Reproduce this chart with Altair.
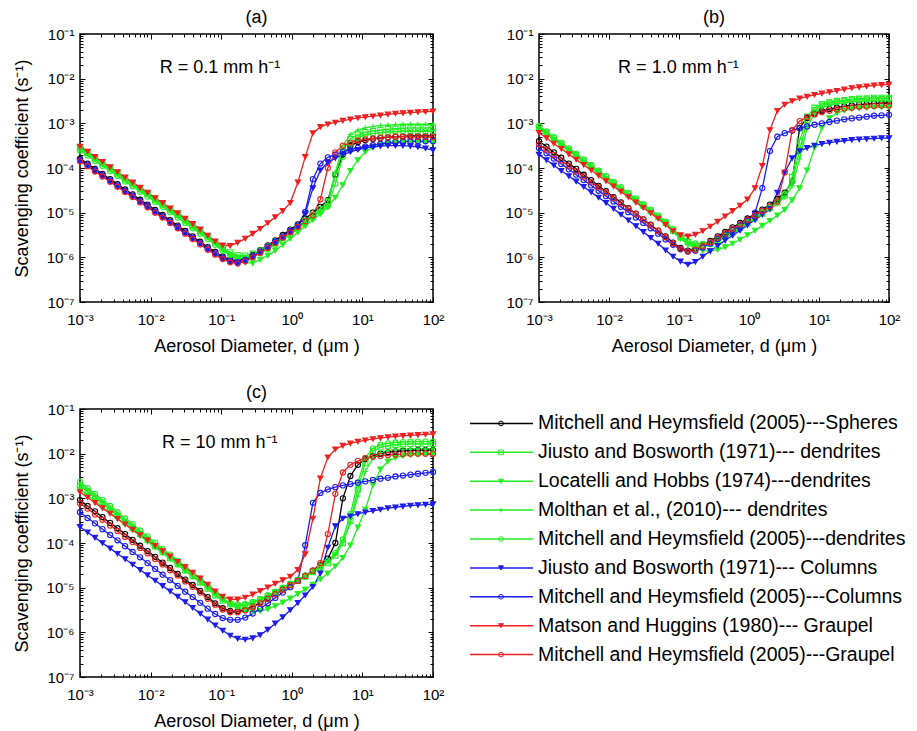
import altair as alt
import pandas as pd

# ---------------- data (diameters in µm, coefficients stored as log10 values) ----------------
DIAMETER_UM = [0.001, 0.00128, 0.00163, 0.00208, 0.00267, 0.0034, 0.00435, 0.00556, 0.0071, 0.00906,
               0.0116, 0.0148, 0.0189, 0.0242, 0.0309, 0.0394, 0.0504, 0.0644, 0.0822, 0.105,
               0.134, 0.171, 0.219, 0.28, 0.357, 0.457, 0.583, 0.745, 0.952, 1.22,
               1.55, 1.99, 2.54, 3.24, 4.14, 5.29, 6.76, 8.63, 11.0, 14.1,
               18.0, 23.0, 29.4, 37.5, 47.9, 61.2, 78.3, 100.0]

SERIES = [
    "Mitchell and Heymsfield (2005)---Spheres",
    "Jiusto and Bosworth (1971)--- dendrites",
    "Locatelli and Hobbs (1974)---dendrites",
    "Molthan et al., (2010)--- dendrites",
    "Mitchell and Heymsfield (2005)---dendrites",
    "Jiusto and Bosworth (1971)--- Columns",
    "Mitchell and Heymsfield (2005)---Columns",
    "Matson and Huggins (1980)--- Graupel",
    "Mitchell and Heymsfield (2005)---Graupel",
]
COLORS = ["#000000", "#22ee22", "#22ee22", "#22ee22", "#22ee22",
          "#1c1cf0", "#1c1cf0", "#ee2020", "#ee2020"]
FILLS = ["transparent", "transparent", "#22ee22", "transparent", "transparent",
         "#1c1cf0", "transparent", "#ee2020", "transparent"]
SHAPES = ["circle", "square", "triangle-down", "M-1,0H1M0,-1V1", "circle",
          "triangle-down", "circle", "triangle-down", "circle"]

# Panel (a): R = 0.1 mm/h
A_SPHERES = [-3.79,-3.90,-4.02,-4.13,-4.25,-4.36,-4.48,-4.59,-4.71,-4.82,
             -4.94,-5.05,-5.17,-5.29,-5.41,-5.53,-5.65,-5.77,-5.88,-5.98,
             -6.05,-6.08,-6.03,-5.94,-5.84,-5.73,-5.62,-5.50,-5.38,-5.26,
             -5.13,-5.00,-4.87,-4.72,-4.15,-3.70,-3.50,-3.42,-3.38,-3.35,
             -3.33,-3.31,-3.30,-3.29,-3.28,-3.28,-3.28,-3.28]
A_JIUSTO_DEND = [-3.55,-3.66,-3.78,-3.89,-4.01,-4.12,-4.24,-4.35,-4.47,-4.58,
                 -4.70,-4.81,-4.93,-5.05,-5.17,-5.29,-5.41,-5.53,-5.66,-5.79,
                 -5.89,-5.95,-5.96,-5.92,-5.85,-5.76,-5.66,-5.55,-5.43,-5.31,
                 -5.18,-5.05,-4.92,-4.75,-4.15,-3.60,-3.35,-3.25,-3.20,-3.17,
                 -3.15,-3.13,-3.12,-3.11,-3.10,-3.10,-3.10,-3.10]
A_LOCATELLI = [-3.53,-3.64,-3.76,-3.87,-3.99,-4.10,-4.22,-4.33,-4.45,-4.56,
               -4.68,-4.79,-4.91,-5.03,-5.15,-5.27,-5.40,-5.53,-5.67,-5.82,
               -5.96,-6.06,-6.12,-6.13,-6.05,-5.96,-5.85,-5.72,-5.58,-5.44,
               -5.30,-5.16,-5.03,-4.88,-4.66,-4.38,-4.06,-3.82,-3.64,-3.54,
               -3.48,-3.45,-3.43,-3.42,-3.41,-3.41,-3.41,-3.42]
A_MOLTHAN = [-3.58,-3.69,-3.81,-3.92,-4.04,-4.15,-4.27,-4.38,-4.50,-4.61,
             -4.73,-4.84,-4.96,-5.08,-5.20,-5.32,-5.44,-5.56,-5.69,-5.82,
             -5.92,-5.98,-5.99,-5.95,-5.88,-5.79,-5.69,-5.58,-5.46,-5.34,
             -5.21,-5.08,-4.95,-4.80,-4.10,-3.50,-3.25,-3.15,-3.10,-3.07,
             -3.05,-3.04,-3.03,-3.02,-3.02,-3.02,-3.02,-3.02]
A_MITCHELL_DEND = [-3.61,-3.72,-3.84,-3.95,-4.07,-4.18,-4.30,-4.41,-4.53,-4.64,
                   -4.76,-4.87,-4.99,-5.11,-5.23,-5.35,-5.47,-5.59,-5.72,-5.85,
                   -5.95,-6.01,-6.02,-5.98,-5.91,-5.82,-5.72,-5.61,-5.49,-5.37,
                   -5.24,-5.11,-4.98,-4.85,-4.35,-3.75,-3.45,-3.32,-3.26,-3.23,
                   -3.21,-3.20,-3.19,-3.18,-3.18,-3.18,-3.18,-3.18]
A_JIUSTO_COL = [-3.84,-3.95,-4.07,-4.18,-4.30,-4.41,-4.53,-4.64,-4.76,-4.87,
                -4.99,-5.10,-5.22,-5.34,-5.46,-5.58,-5.70,-5.82,-5.93,-6.03,
                -6.10,-6.13,-6.08,-5.99,-5.89,-5.78,-5.67,-5.55,-5.43,-5.31,
                -5.02,-4.45,-4.05,-3.88,-3.78,-3.70,-3.64,-3.59,-3.55,-3.53,
                -3.51,-3.50,-3.50,-3.50,-3.51,-3.53,-3.56,-3.60]
A_MITCHELL_COL = [-3.82,-3.93,-4.05,-4.16,-4.28,-4.39,-4.51,-4.62,-4.74,-4.85,
                  -4.97,-5.08,-5.20,-5.32,-5.44,-5.56,-5.68,-5.80,-5.91,-6.01,
                  -6.08,-6.11,-6.06,-5.97,-5.87,-5.76,-5.65,-5.53,-5.41,-5.29,
                  -4.98,-4.25,-3.90,-3.76,-3.70,-3.64,-3.59,-3.55,-3.52,-3.49,
                  -3.46,-3.44,-3.42,-3.41,-3.40,-3.40,-3.40,-3.40]
A_MATSON = [-3.52,-3.63,-3.75,-3.86,-3.98,-4.09,-4.21,-4.32,-4.44,-4.55,
            -4.67,-4.78,-4.90,-5.01,-5.13,-5.25,-5.37,-5.51,-5.64,-5.73,
            -5.74,-5.67,-5.58,-5.47,-5.36,-5.23,-5.10,-4.96,-4.78,-4.32,
            -3.75,-3.22,-3.08,-3.02,-2.98,-2.94,-2.91,-2.88,-2.86,-2.84,
            -2.82,-2.80,-2.78,-2.77,-2.76,-2.75,-2.74,-2.73]
A_MITCHELL_GRP = [-3.85,-3.96,-4.08,-4.19,-4.31,-4.42,-4.54,-4.65,-4.77,-4.88,
                  -5.00,-5.11,-5.23,-5.35,-5.47,-5.59,-5.71,-5.83,-5.94,-6.04,
                  -6.11,-6.14,-6.09,-6.00,-5.90,-5.79,-5.68,-5.56,-5.44,-5.32,
                  -5.19,-5.06,-4.70,-4.00,-3.65,-3.50,-3.43,-3.39,-3.36,-3.34,
                  -3.32,-3.31,-3.30,-3.30,-3.30,-3.30,-3.30,-3.31]

# Panel (b): R = 1.0 mm/h
B_SPHERES = [-3.40,-3.52,-3.65,-3.77,-3.90,-4.02,-4.15,-4.27,-4.40,-4.52,
             -4.65,-4.77,-4.90,-5.02,-5.15,-5.27,-5.40,-5.53,-5.67,-5.79,
             -5.85,-5.80,-5.72,-5.63,-5.53,-5.43,-5.33,-5.23,-5.13,-5.03,
             -4.93,-4.82,-4.70,-4.55,-4.30,-3.10,-2.88,-2.78,-2.72,-2.68,
             -2.65,-2.62,-2.60,-2.58,-2.57,-2.56,-2.55,-2.55]
B_JIUSTO_DEND = [-3.09,-3.21,-3.34,-3.46,-3.59,-3.71,-3.84,-3.96,-4.09,-4.21,
                 -4.34,-4.46,-4.59,-4.71,-4.84,-4.96,-5.09,-5.23,-5.40,-5.55,
                 -5.66,-5.72,-5.73,-5.69,-5.62,-5.53,-5.44,-5.34,-5.24,-5.13,
                 -5.02,-4.90,-4.77,-4.62,-4.20,-3.40,-2.85,-2.65,-2.57,-2.53,
                 -2.50,-2.48,-2.46,-2.45,-2.44,-2.43,-2.43,-2.43]
B_LOCATELLI = [-3.12,-3.24,-3.37,-3.49,-3.62,-3.74,-3.87,-3.99,-4.12,-4.24,
               -4.37,-4.49,-4.62,-4.74,-4.87,-4.99,-5.12,-5.26,-5.42,-5.58,
               -5.71,-5.80,-5.85,-5.86,-5.83,-5.77,-5.69,-5.60,-5.50,-5.40,
               -5.29,-5.18,-5.06,-4.93,-4.72,-4.45,-4.05,-3.55,-3.10,-2.88,
               -2.77,-2.71,-2.68,-2.66,-2.65,-2.64,-2.64,-2.64]
B_MOLTHAN = [-3.12,-3.24,-3.37,-3.49,-3.62,-3.74,-3.87,-3.99,-4.12,-4.24,
             -4.37,-4.49,-4.62,-4.74,-4.87,-4.99,-5.12,-5.26,-5.43,-5.58,
             -5.69,-5.75,-5.76,-5.72,-5.65,-5.56,-5.47,-5.37,-5.27,-5.16,
             -5.05,-4.93,-4.80,-4.65,-4.40,-3.80,-3.10,-2.78,-2.65,-2.59,
             -2.56,-2.54,-2.52,-2.51,-2.50,-2.50,-2.50,-2.50]
B_MITCHELL_DEND = [-3.06,-3.18,-3.31,-3.43,-3.56,-3.68,-3.81,-3.93,-4.06,-4.18,
                   -4.31,-4.43,-4.56,-4.68,-4.81,-4.93,-5.06,-5.20,-5.37,-5.52,
                   -5.63,-5.69,-5.70,-5.66,-5.59,-5.50,-5.41,-5.31,-5.21,-5.10,
                   -4.99,-4.87,-4.74,-4.58,-4.30,-3.60,-2.95,-2.70,-2.60,-2.55,
                   -2.52,-2.50,-2.48,-2.47,-2.46,-2.45,-2.45,-2.45]
B_JIUSTO_COL = [-3.70,-3.82,-3.94,-4.06,-4.18,-4.30,-4.42,-4.54,-4.66,-4.78,
                -4.91,-5.04,-5.17,-5.30,-5.43,-5.56,-5.69,-5.84,-5.98,-6.09,
                -6.16,-6.10,-5.98,-5.86,-5.74,-5.62,-5.51,-5.40,-5.28,-5.16,
                -5.04,-4.92,-4.55,-4.10,-3.78,-3.62,-3.55,-3.50,-3.46,-3.43,
                -3.41,-3.39,-3.37,-3.36,-3.35,-3.34,-3.33,-3.33]
B_MITCHELL_COL = [-3.55,-3.67,-3.79,-3.91,-4.03,-4.15,-4.27,-4.39,-4.51,-4.63,
                  -4.75,-4.87,-4.99,-5.11,-5.23,-5.35,-5.47,-5.60,-5.72,-5.82,
                  -5.87,-5.85,-5.78,-5.69,-5.59,-5.49,-5.39,-5.29,-5.18,-5.00,
                  -4.45,-3.62,-3.30,-3.22,-3.16,-3.11,-3.07,-3.03,-3.00,-2.97,
                  -2.94,-2.91,-2.89,-2.87,-2.85,-2.83,-2.82,-2.81]
B_MATSON = [-3.21,-3.33,-3.45,-3.57,-3.69,-3.81,-3.93,-4.05,-4.17,-4.29,
            -4.41,-4.53,-4.65,-4.77,-4.89,-5.01,-5.13,-5.27,-5.41,-5.50,
            -5.53,-5.49,-5.41,-5.31,-5.20,-5.08,-4.96,-4.84,-4.70,-4.45,
            -3.95,-3.15,-2.72,-2.58,-2.50,-2.44,-2.40,-2.36,-2.33,-2.30,
            -2.27,-2.24,-2.21,-2.19,-2.17,-2.15,-2.14,-2.13]
B_MITCHELL_GRP = [-3.47,-3.59,-3.71,-3.83,-3.95,-4.07,-4.19,-4.31,-4.43,-4.55,
                  -4.67,-4.79,-4.91,-5.03,-5.15,-5.28,-5.41,-5.55,-5.69,-5.81,
                  -5.87,-5.83,-5.75,-5.66,-5.56,-5.46,-5.36,-5.26,-5.16,-5.06,
                  -4.96,-4.86,-4.75,-4.10,-3.15,-2.95,-2.86,-2.80,-2.75,-2.72,
                  -2.69,-2.67,-2.65,-2.63,-2.62,-2.61,-2.60,-2.60]

# Panel (c): R = 10 mm/h
C_SPHERES = [-3.04,-3.17,-3.29,-3.42,-3.55,-3.67,-3.80,-3.93,-4.06,-4.18,
             -4.31,-4.44,-4.56,-4.69,-4.82,-4.94,-5.07,-5.21,-5.35,-5.46,
             -5.52,-5.53,-5.49,-5.42,-5.33,-5.23,-5.13,-5.03,-4.93,-4.83,
             -4.73,-4.62,-4.50,-4.35,-4.00,-3.00,-2.50,-2.25,-2.12,-2.05,
             -2.00,-1.97,-1.95,-1.94,-1.93,-1.92,-1.92,-1.92]
C_JIUSTO_DEND = [-2.72,-2.85,-2.99,-3.12,-3.26,-3.39,-3.53,-3.66,-3.80,-3.93,
                 -4.07,-4.20,-4.34,-4.47,-4.61,-4.74,-4.88,-5.02,-5.17,-5.29,
                 -5.37,-5.40,-5.39,-5.34,-5.27,-5.19,-5.11,-5.02,-4.93,-4.84,
                 -4.75,-4.65,-4.55,-4.45,-4.28,-4.00,-3.50,-2.80,-2.20,-1.95,
                 -1.86,-1.82,-1.80,-1.79,-1.78,-1.78,-1.78,-1.78]
C_LOCATELLI = [-2.80,-2.93,-3.06,-3.19,-3.32,-3.45,-3.58,-3.71,-3.84,-3.97,
               -4.10,-4.23,-4.36,-4.49,-4.62,-4.75,-4.88,-5.01,-5.14,-5.27,
               -5.38,-5.46,-5.51,-5.53,-5.52,-5.48,-5.41,-5.33,-5.24,-5.14,
               -5.04,-4.93,-4.81,-4.68,-4.52,-4.33,-4.05,-3.65,-3.25,-2.70,
               -2.35,-2.17,-2.09,-2.05,-2.03,-2.02,-2.01,-2.00]
C_MOLTHAN = [-2.68,-2.81,-2.95,-3.08,-3.22,-3.35,-3.49,-3.62,-3.76,-3.89,
             -4.03,-4.16,-4.30,-4.43,-4.57,-4.70,-4.84,-4.98,-5.14,-5.27,
             -5.36,-5.39,-5.38,-5.33,-5.26,-5.18,-5.10,-5.01,-4.92,-4.83,
             -4.74,-4.64,-4.53,-4.42,-4.25,-3.98,-3.55,-2.95,-2.40,-2.10,
             -1.98,-1.93,-1.91,-1.90,-1.89,-1.89,-1.89,-1.89]
C_MITCHELL_DEND = [-2.63,-2.77,-2.90,-3.04,-3.17,-3.31,-3.45,-3.58,-3.72,-3.85,
                   -3.99,-4.13,-4.26,-4.40,-4.53,-4.67,-4.80,-4.95,-5.11,-5.25,
                   -5.34,-5.38,-5.37,-5.32,-5.25,-5.17,-5.09,-5.00,-4.91,-4.82,
                   -4.73,-4.63,-4.52,-4.40,-4.22,-3.92,-3.35,-2.65,-2.10,-1.88,
                   -1.80,-1.77,-1.75,-1.74,-1.73,-1.73,-1.73,-1.73]
C_JIUSTO_COL = [-3.64,-3.76,-3.88,-4.00,-4.12,-4.24,-4.36,-4.48,-4.60,-4.72,
                -4.84,-4.96,-5.08,-5.20,-5.32,-5.45,-5.58,-5.71,-5.84,-5.96,
                -6.07,-6.14,-6.16,-6.13,-6.06,-5.94,-5.80,-5.66,-5.50,-5.34,
                -5.17,-4.98,-4.68,-4.10,-3.62,-3.45,-3.40,-3.35,-3.31,-3.28,
                -3.25,-3.22,-3.20,-3.18,-3.16,-3.15,-3.14,-3.13]
C_MITCHELL_COL = [-3.31,-3.44,-3.56,-3.69,-3.82,-3.94,-4.07,-4.20,-4.32,-4.45,
                  -4.58,-4.71,-4.83,-4.96,-5.09,-5.21,-5.34,-5.47,-5.59,-5.68,
                  -5.72,-5.72,-5.67,-5.58,-5.47,-5.35,-5.23,-5.11,-4.99,-4.85,
                  -4.05,-3.10,-2.88,-2.80,-2.75,-2.71,-2.68,-2.65,-2.62,-2.59,
                  -2.56,-2.54,-2.51,-2.49,-2.47,-2.45,-2.43,-2.41]
C_MATSON = [-2.86,-2.98,-3.10,-3.22,-3.34,-3.46,-3.58,-3.70,-3.82,-3.94,
            -4.06,-4.18,-4.30,-4.42,-4.54,-4.66,-4.79,-4.93,-5.08,-5.20,
            -5.26,-5.26,-5.22,-5.15,-5.07,-4.99,-4.91,-4.83,-4.75,-4.60,
            -4.25,-3.45,-2.55,-2.08,-1.90,-1.82,-1.77,-1.73,-1.70,-1.67,
            -1.65,-1.63,-1.61,-1.60,-1.59,-1.58,-1.57,-1.56]
C_MITCHELL_GRP = [-3.11,-3.23,-3.36,-3.48,-3.61,-3.73,-3.86,-3.98,-4.11,-4.23,
                  -4.36,-4.48,-4.61,-4.73,-4.86,-4.98,-5.11,-5.25,-5.38,-5.49,
                  -5.55,-5.55,-5.51,-5.44,-5.35,-5.25,-5.15,-5.05,-4.95,-4.85,
                  -4.74,-4.62,-4.45,-3.80,-2.90,-2.42,-2.25,-2.16,-2.10,-2.07,
                  -2.05,-2.03,-2.02,-2.01,-2.00,-2.00,-2.00,-2.00]

PANEL_A = [A_SPHERES, A_JIUSTO_DEND, A_LOCATELLI, A_MOLTHAN, A_MITCHELL_DEND,
           A_JIUSTO_COL, A_MITCHELL_COL, A_MATSON, A_MITCHELL_GRP]
PANEL_B = [B_SPHERES, B_JIUSTO_DEND, B_LOCATELLI, B_MOLTHAN, B_MITCHELL_DEND,
           B_JIUSTO_COL, B_MITCHELL_COL, B_MATSON, B_MITCHELL_GRP]
PANEL_C = [C_SPHERES, C_JIUSTO_DEND, C_LOCATELLI, C_MOLTHAN, C_MITCHELL_DEND,
           C_JIUSTO_COL, C_MITCHELL_COL, C_MATSON, C_MITCHELL_GRP]

X_MAJOR = [0.001, 0.01, 0.1, 1, 10, 100]
Y_MAJOR = [1e-7, 1e-6, 1e-5, 1e-4, 1e-3, 1e-2, 1e-1]
X_SUP = ["⁻³", "⁻²", "⁻¹", "⁰", "¹", "²"]
Y_SUP = ["⁻⁷", "⁻⁶", "⁻⁵", "⁻⁴", "⁻³", "⁻²", "⁻¹"]
MINOR_STEPS = [2, 3, 4, 5, 6, 7, 8, 9]
X_MINOR = [m * v for v in X_MAJOR[:-1] for m in MINOR_STEPS]
Y_MINOR = [m * v for v in Y_MAJOR[:-1] for m in MINOR_STEPS]

FONT = "Liberation Sans"
XL = "'10' + [" + ",".join("'%s'" % s for s in X_SUP) + "][round(log(datum.value)/LN10) + 3]"
YL = "'10' + [" + ",".join("'%s'" % s for s in Y_SUP) + "][round(log(datum.value)/LN10) + 7]"

STROKE_SCALE = alt.Scale(domain=SERIES, range=COLORS)
FILL_SCALE = alt.Scale(domain=SERIES, range=FILLS)
SHAPE_SCALE = alt.Scale(domain=SERIES, range=SHAPES)

TITLE_OFFSET = 0


def table(values):
    rows = []
    for name, series in zip(SERIES, values):
        for d, lv in zip(DIAMETER_UM, series):
            rows.append({"d": d, "v": 10 ** lv, "series": name})
    return pd.DataFrame(rows)


def panel(values, title, note, note_d, note_v, y_title, width):
    df = table(values)
    xs = alt.Scale(type="log", domain=[0.001, 100])
    ys = alt.Scale(type="log", domain=[1e-7, 0.1])
    x_main = alt.Axis(orient="bottom", values=X_MAJOR, labelExpr=XL, tickSize=5, offset=-5,
                      domain=False, grid=False, labelFlush=False, labelPadding=10,
                      minExtent=0, title="Aerosol Diameter, d (μm )", titlePadding=10)
    y_main = alt.Axis(orient="left", values=Y_MAJOR, labelExpr=YL, tickSize=5, offset=-5,
                      domain=False, grid=False, labelFlush=False, labelPadding=6,
                      minExtent=0, title=y_title, titlePadding=14)
    lines = alt.Chart(df).mark_line(strokeWidth=1.3).encode(
        x=alt.X("d:Q", scale=xs, axis=x_main),
        y=alt.Y("v:Q", scale=ys, axis=y_main),
        stroke=alt.Stroke("series:N", scale=STROKE_SCALE, legend=None),
    )
    pts = alt.Chart(df).mark_point(size=27, strokeWidth=1.1, opacity=1).encode(
        x=alt.X("d:Q", scale=xs, axis=None),
        y=alt.Y("v:Q", scale=ys, axis=None),
        stroke=alt.Stroke("series:N", scale=STROKE_SCALE, legend=None),
        fill=alt.Fill("series:N", scale=FILL_SCALE, legend=None),
        shape=alt.Shape("series:N", scale=SHAPE_SCALE, legend=None),
    )
    note_df = pd.DataFrame({"d": [note_d], "v": [note_v], "t": [note]})
    txt = alt.Chart(note_df).mark_text(align="left", baseline="middle", fontSize=18,
                                       font=FONT, color="black").encode(
        x=alt.X("d:Q", scale=xs, axis=None),
        y=alt.Y("v:Q", scale=ys, axis=None),
        text="t:N",
    )
    frame_df = pd.DataFrame({"d": [0.001], "v": [0.1]})

    def tick_layer(xorient, yorient, xvals, yvals, size):
        return alt.Chart(frame_df).mark_point(opacity=0).encode(
            x=alt.X("d:Q", scale=xs, axis=alt.Axis(orient=xorient, values=xvals, labels=False,
                                                    tickSize=size, offset=-size, domain=False,
                                                    grid=False, title=None, minExtent=0)),
            y=alt.Y("v:Q", scale=ys, axis=alt.Axis(orient=yorient, values=yvals, labels=False,
                                                    tickSize=size, offset=-size, domain=False,
                                                    grid=False, title=None, minExtent=0)),
        )

    layers = [lines, pts, txt,
              tick_layer("bottom", "left", X_MINOR, Y_MINOR, 3),
              tick_layer("top", "right", X_MAJOR, Y_MAJOR, 5),
              tick_layer("top", "right", X_MINOR, Y_MINOR, 3)]
    return alt.layer(*layers).resolve_axis(x="independent", y="independent").properties(
        width=width, height=268,
        title=alt.TitleParams(title, fontSize=18, font=FONT, fontWeight="normal",
                              offset=TITLE_OFFSET)
    )


Y_TITLE = "Scavenging coefficient (s⁻¹)"
pa = panel(PANEL_A, "(a)", "R = 0.1 mm h⁻¹", 0.0135, 0.0175, Y_TITLE, 353)
pb = panel(PANEL_B, "(b)", "R = 1.0 mm h⁻¹", 0.0135, 0.0175, None, 350)
pc = panel(PANEL_C, "(c)", "R = 10 mm h⁻¹", 0.0145, 0.0175, Y_TITLE, 353)

# legend panel (an invisible copy of the "(c)" title keeps it aligned with panel (c))
leg_df = pd.DataFrame({"series": SERIES})
ly = alt.Y("series:N", scale=alt.Scale(type="point", domain=SERIES, padding=0.5), axis=None)
leg_rule = alt.Chart(leg_df).mark_rule(strokeWidth=1.5).encode(
    x=alt.value(3), x2=alt.value(66), y=ly,
    stroke=alt.Stroke("series:N", scale=STROKE_SCALE, legend=None))
leg_pts = alt.Chart(leg_df).mark_point(size=22, strokeWidth=1, opacity=1).encode(
    x=alt.value(34), y=ly,
    stroke=alt.Stroke("series:N", scale=STROKE_SCALE, legend=None),
    fill=alt.Fill("series:N", scale=FILL_SCALE, legend=None),
    shape=alt.Shape("series:N", scale=SHAPE_SCALE, legend=None))
leg_txt = alt.Chart(leg_df).mark_text(align="left", baseline="middle", fontSize=19.5,
                                      font=FONT, color="black").encode(
    x=alt.value(71), y=ly, text="series:N")
legend = alt.layer(leg_rule, leg_pts, leg_txt).properties(
    width=430, height=260, view=alt.ViewConfig(stroke="transparent"),
    title=alt.TitleParams("(c)", fontSize=18, font=FONT, fontWeight="normal",
                          offset=TITLE_OFFSET, color="transparent"))

row1 = alt.hconcat(pa, pb, spacing=59)
row2 = alt.hconcat(pc, legend, spacing=21)
chart = alt.vconcat(row1, row2, spacing=27).properties(
    padding={"left": 13, "top": 8, "right": 0, "bottom": 0}
).configure_view(stroke="black", strokeWidth=1.5).configure_axis(
    labelFont=FONT, labelFontSize=15, labelColor="black",
    titleFont=FONT, titleFontSize=18, titleFontWeight="normal", titleColor="black",
    tickColor="black", tickWidth=1
).configure_title(font=FONT, fontSize=18, fontWeight="normal", color="black")

chart.save("out.html", embed_options={"renderer": "svg", "actions": False})
